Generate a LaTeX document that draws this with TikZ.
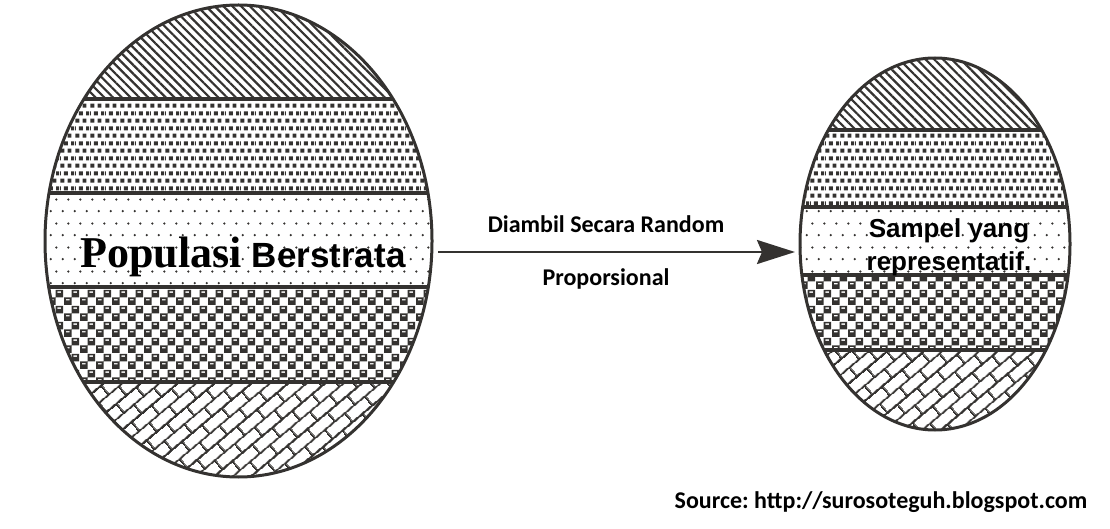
\documentclass[tikz,border=0pt]{standalone}
\usepackage{fontspec}
\setmainfont{Carlito}
\newfontfamily\popserif{Liberation Serif}
\newfontfamily\popsans{Liberation Sans}
\usetikzlibrary{arrows.meta,patterns,patterns.meta,positioning}

\definecolor{ink}{RGB}{52,50,48}

% small squares, staggered rows
\pgfdeclarepattern{
  name=squaredots, type=uncolored,
  bottom left={\pgfpointorigin}, top right={\pgfpoint{15pt}{15pt}},
  tile size={\pgfpoint{15pt}{15pt}},
  code={
    \pgfpathrectangle{\pgfpoint{0.5pt}{0.5pt}}{\pgfpoint{4.2pt}{4.2pt}}
    \pgfpathrectangle{\pgfpoint{8pt}{0.5pt}}{\pgfpoint{4.2pt}{4.2pt}}
    \pgfpathrectangle{\pgfpoint{4.25pt}{8pt}}{\pgfpoint{4.2pt}{4.2pt}}
    \pgfpathrectangle{\pgfpoint{11.75pt}{8pt}}{\pgfpoint{3.25pt}{4.2pt}}
    \pgfpathrectangle{\pgfpoint{0pt}{8pt}}{\pgfpoint{0.95pt}{4.2pt}}
    \pgfusepath{fill}
  }
}
% sparse dots
\pgfdeclarepattern{
  name=sparsedots, type=uncolored,
  bottom left={\pgfpointorigin}, top right={\pgfpoint{12pt}{24pt}},
  tile size={\pgfpoint{12pt}{24pt}},
  code={
    \pgfpathcircle{\pgfpoint{3pt}{6pt}}{1.3pt}
    \pgfpathcircle{\pgfpoint{9pt}{18pt}}{1.3pt}
    \pgfusepath{fill}
  }
}
% checker of dark cells, each with a light dash
\pgfdeclarepattern{
  name=blobs, type=uncolored,
  bottom left={\pgfpointorigin}, top right={\pgfpoint{16pt}{16pt}},
  tile size={\pgfpoint{16pt}{16pt}},
  code={
    \pgfseteorule
    \pgfpathrectangle{\pgfpoint{0pt}{0pt}}{\pgfpoint{8pt}{8pt}}
    \pgfpathrectangle{\pgfpoint{2pt}{4.8pt}}{\pgfpoint{4pt}{1.5pt}}
    \pgfpathrectangle{\pgfpoint{8pt}{8pt}}{\pgfpoint{8pt}{8pt}}
    \pgfpathrectangle{\pgfpoint{10pt}{12.8pt}}{\pgfpoint{4pt}{1.5pt}}
    \pgfusepath{fill}
  }
}
% bricks turned by 40 degrees
\pgfdeclarepattern{
  name=slantbricks, type=uncolored,
  bottom left={\pgfpointorigin}, top right={\pgfpoint{26pt}{24pt}},
  tile size={\pgfpoint{26pt}{24pt}},
  tile transformation={\pgftransformrotate{40}},
  code={
    \pgfsetlinewidth{1.9pt}
    \pgfpathmoveto{\pgfpoint{0pt}{0pt}}\pgfpathlineto{\pgfpoint{26pt}{0pt}}
    \pgfpathmoveto{\pgfpoint{0pt}{12pt}}\pgfpathlineto{\pgfpoint{26pt}{12pt}}
    \pgfpathmoveto{\pgfpoint{0pt}{24pt}}\pgfpathlineto{\pgfpoint{26pt}{24pt}}
    \pgfpathmoveto{\pgfpoint{0pt}{0pt}}\pgfpathlineto{\pgfpoint{0pt}{12pt}}
    \pgfpathmoveto{\pgfpoint{26pt}{0pt}}\pgfpathlineto{\pgfpoint{26pt}{12pt}}
    \pgfpathmoveto{\pgfpoint{13pt}{12pt}}\pgfpathlineto{\pgfpoint{13pt}{24pt}}
    \pgfusepath{stroke}
  }
}

\tikzset{
  stratum/.style={pattern color=ink},
  bandline/.style={draw=ink,line width=4pt},
  rim/.style={draw=ink,line width=3pt},
  flow/.style={draw=ink,line width=2.6pt,-{Stealth[length=38pt,width=24pt,inset=5pt]}},
  caption/.style={font=\bfseries\fontsize{24}{24}\selectfont,anchor=base}
}

% #1,#2 centre, #3,#4 radii, #5..#8 heights of the band lines
\newcommand\strata[8]{%
  \begin{scope}
    \clip (#1,#2) ellipse [x radius=#3, y radius=#4];
    \fill[stratum,pattern={Lines[angle=-45,distance=6.2pt,line width=2.2pt]}] (#1-#3,#2+#4) rectangle (#1+#3,#5);
    \fill[stratum,pattern=squaredots] (#1-#3,#5) rectangle (#1+#3,#6);
    \fill[stratum,pattern=sparsedots] (#1-#3,#6) rectangle (#1+#3,#7);
    \fill[stratum,pattern=blobs] (#1-#3,#7) rectangle (#1+#3,#8);
    \fill[stratum,pattern=slantbricks] (#1-#3,#8) rectangle (#1+#3,#2-#4);
    \foreach \yy in {#5,#6,#7,#8}
      \draw[bandline] (#1-#3,\yy) -- (#1+#3,\yy);
  \end{scope}
  \draw[rim] (#1,#2) ellipse [x radius=#3, y radius=#4];
}

\begin{document}
\begin{tikzpicture}[x=1pt,y=1pt]
  \useasboundingbox (0,0) rectangle (1110,528);

  % population and sample
  \strata{238.5}{287}{193.5}{236}{429}{335}{241}{146}
  \strata{935}{284}{135}{186}{398}{321}{253}{178}

  \node (popul) [anchor=base,inner sep=0pt] at (243,261)
    {{\popserif\bfseries\fontsize{44}{44}\selectfont Populasi}\hspace{10pt}{\popsans\bfseries\fontsize{35}{35}\selectfont Berstrata}};
  \node (samp1) [anchor=base,inner sep=0pt,font=\popsans\bfseries\fontsize{26}{26}\selectfont] at (949,290) {Sampel yang};
  \node (samp2) [anchor=base,inner sep=0pt,font=\popsans\bfseries\fontsize{26}{26}\selectfont] at ([yshift=-32pt]samp1.base) {representatif.};

  % sampling arrow
  \coordinate (from) at (438,276);
  \coordinate (to) at (795,276);
  \draw[flow] (from) -- (to);
  \node (how1) [caption] at (606,295) {Diambil Secara Random};
  \node (how2) [caption] at (606,243) {Proporsional};

  \node (src) [caption] at (881,20) {Source:\ http://surosoteguh.blogspot.com};
\end{tikzpicture}
\end{document}
